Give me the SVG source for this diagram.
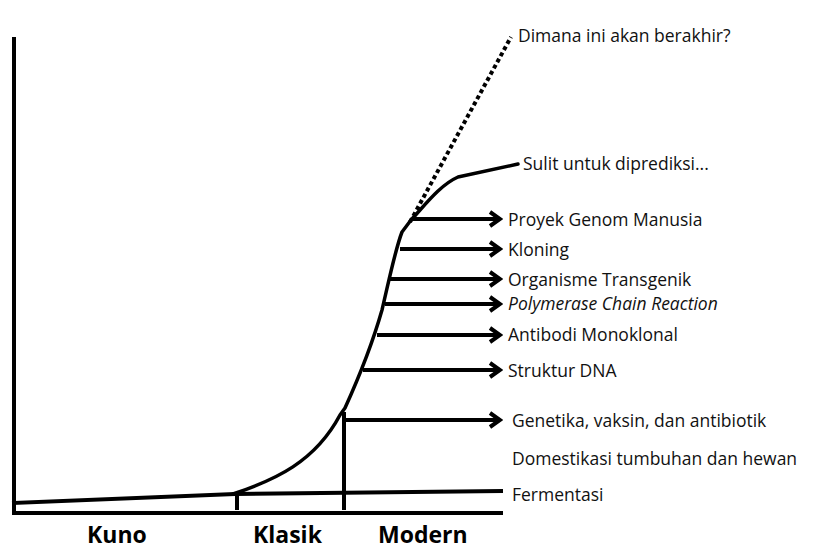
<svg xmlns="http://www.w3.org/2000/svg" width="819" height="551" viewBox="0 0 819 551">
<style>
.ax{stroke:#000;stroke-width:4;fill:none;stroke-linecap:square}
.cv{stroke:#000;stroke-width:3.5;fill:none;stroke-linejoin:round;stroke-linecap:round}
.ar{stroke:#000;stroke-width:4;fill:none;marker-end:url(#ah)}
.dot{stroke:#000;stroke-width:4;fill:none;stroke-dasharray:4 3}
.lb{font-family:"Open Sans","Noto Sans",sans-serif;font-size:17.5px;fill:#111}
.big{font-family:"Open Sans","Noto Sans",sans-serif;font-size:23px;font-weight:bold;fill:#000}
</style>
<defs>
<marker id="ah" markerUnits="userSpaceOnUse" viewBox="0 0 16 18" refX="13" refY="9" markerWidth="16" markerHeight="18" orient="auto">
<path d="M3,2 L13,9 L3,16" stroke="#000" stroke-width="4" fill="none" stroke-linejoin="miter"/>
</marker>
</defs>
<rect width="819" height="551" fill="#fff"/>
<g id="axes">
<path class="ax" d="M14,39 L14,513 L501,513"/>
<path class="ax" d="M14,503 L235,494 L501,491"/>
<path class="ax" d="M237,494 L237,508"/>
<path class="ax" d="M344,414 L344,508"/>
</g>
<g id="curve">
<path class="cv" d="M233,494 C275,480 315,462 340,415 L345,408 C360,375 372,345 382,310 C388,285 395,250 402,232 L411,220 C425,205 440,185 458,177 L518,164"/>
<path class="dot" d="M410,222 L511,37"/>
</g>
<g id="connectors">
<path class="ar" d="M412,219 L500,219"/>
<path class="ar" d="M400,249 L500,249"/>
<path class="ar" d="M388,279 L500,279"/>
<path class="ar" d="M385,304 L500,304"/>
<path class="ar" d="M377,335 L500,335"/>
<path class="ar" d="M363,370 L500,370"/>
<path class="ar" d="M344,420 L500,420"/>
</g>
<g id="labels">
<text class="lb" x="518" y="42">Dimana ini akan berakhir?</text>
<text class="lb" x="523" y="170">Sulit untuk diprediksi...</text>
<text class="lb" x="508" y="226">Proyek Genom Manusia</text>
<text class="lb" x="508" y="256">Kloning</text>
<text class="lb" x="508" y="286">Organisme Transgenik</text>
<text class="lb" x="508" y="310" font-style="italic">Polymerase Chain Reaction</text>
<text class="lb" x="508" y="341">Antibodi Monoklonal</text>
<text class="lb" x="508" y="377">Struktur DNA</text>
<text class="lb" x="512" y="427">Genetika, vaksin, dan antibiotik</text>
<text class="lb" x="512" y="465">Domestikasi tumbuhan dan hewan</text>
<text class="lb" x="512" y="501">Fermentasi</text>
</g>
<g id="eras">
<text class="big" x="87" y="543">Kuno</text>
<text class="big" x="253" y="543">Klasik</text>
<text class="big" x="378" y="543">Modern</text>
</g>
</svg>
